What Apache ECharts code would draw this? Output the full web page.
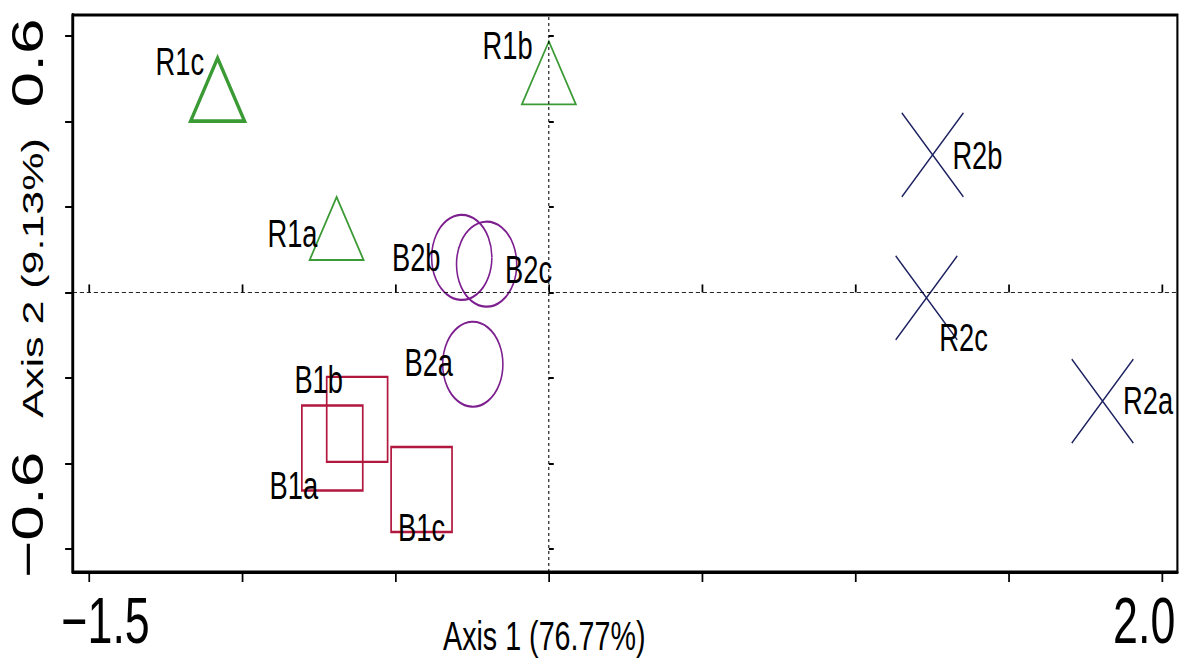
<!DOCTYPE html>
<html>
<head>
<meta charset="utf-8">
<script src="https://cdn.jsdelivr.net/npm/echarts@6/dist/echarts.min.js"></script>
<style>
  html, body { margin: 0; padding: 0; overflow: hidden; background: #fff; }
  #chart { height: 660px; transform-origin: 0 0; }
</style>
</head>
<body>
<div id="chart"></div>
<script>
// the original figure is squeezed horizontally, so the chart is drawn wider and scaled back
var SQUEEZE = 0.7;

var names = ['R1a', 'R1b', 'R1c', 'R2a', 'R2b', 'R2c', 'B1a', 'B1b', 'B1c', 'B2a', 'B2b', 'B2c'];
var axis1 = [-0.692, 0.000, -1.080, 1.805, 1.251, 1.231, -0.706, -0.625, -0.415, -0.248, -0.284, -0.203];
var axis2 = [0.125, 0.489, 0.450, -0.254, 0.322, -0.013, -0.364, -0.297, -0.461, -0.168, 0.082, 0.066];

var groups = ['R1', 'R2', 'B1', 'B2'];

var xTicks = [-1.5, -1.0, -0.5, 0, 0.5, 1.0, 1.5, 2.0];
var xLabels = [-1.5, 2.0];
var yTicks = [-0.6, -0.4, -0.2, 0, 0.2, 0.4, 0.6];
var yLabels = [-0.6, 0.6];

var FONT = '"Liberation Sans", Arial, sans-serif';
var MINUS = '\u2212';

var groupStyle = {
	R1: { symbol: 'triangle', size: [77, 63], offset: [0, '-16.7%'], color: '#3a9a34', width: 2.2 },
	R2: { symbol: 'path://M0,0L10,10M10,0L0,10', size: [88, 84], offset: [0, 0], color: '#1c2160', width: 1.8 },
	B1: { symbol: 'rect', size: [87, 85], offset: [0, 0], color: '#b2173e', width: 2.4 },
	B2: { symbol: 'circle', size: [86, 85], offset: [0, 0], color: '#7d1f8f', width: 2.2 }
};

// label offsets from the symbol centre, in unscaled px
var labelOffset = {
	R1a: [-63, 5], R1b: [-59, -27], R1c: [-54, -28],
	R2a: [65, 0], R2b: [64, 1], R2c: [53, 40],
	B1a: [-55, 38], B1b: [-55, -40], B1c: [0, 38],
	B2a: [-63, -2], B2b: [-65, 0], B2c: [60, 5]
};

var xMin = -1.552, xMax = 2.049;
var yMin = -0.654, yMax = 0.649;

var dom = document.getElementById('chart');
dom.style.width = Math.round(1184 / SQUEEZE) + 'px';
dom.style.transform = 'scaleX(' + SQUEEZE + ')';

var chart = echarts.init(dom, null, { renderer: 'svg' });

var series = groups.map(function(g, gi) {
	var st = groupStyle[g];
	var data = [];
	for (var i = 0; i < names.length; i++) {
		if (names[i].slice(0, 2) !== g) continue;
		var item = {
			name: names[i],
			value: [axis1[i], axis2[i]],
			label: { offset: labelOffset[names[i]] }
		};
		if (names[i] === 'R1c') item.itemStyle = { borderWidth: 4.2 };
		data.push(item);
	}
	var s = {
		type: 'scatter',
		name: g,
		symbol: st.symbol,
		symbolSize: st.size,
		symbolOffset: st.offset,
		itemStyle: { color: 'rgba(0,0,0,0)', borderColor: st.color, borderWidth: st.width, opacity: 1 },
		label: {
			show: true,
			position: 'inside',
			formatter: '{b}',
			color: '#000',
			fontFamily: FONT,
			fontSize: 39
		},
		emphasis: { disabled: true },
		silent: true,
		data: data
	};
	if (gi === 0) {
		s.markLine = {
			silent: true,
			symbol: ['none', 'none'],
			label: { show: false },
			emphasis: { disabled: true },
			data: [
				{ xAxis: 0, lineStyle: { type: [3, 3], width: 1.5, color: '#000' } },
				{ yAxis: 0, lineStyle: { type: [6, 4], width: 1, color: '#000' } }
			]
		};
	}
	return s;
});

chart.setOption({
	animation: false,
	backgroundColor: '#fff',
	grid: {
		left: 104, right: 9, top: 15, bottom: 88,
		containLabel: false,
		outerBoundsMode: 'none',
		show: true, borderColor: '#000', borderWidth: 3, backgroundColor: 'transparent'
	},
	xAxis: [{
		type: 'value',
		min: xMin, max: xMax,
		position: 'bottom',
		name: 'Axis 1 (76.77%)',
		nameLocation: 'middle',
		nameGap: 45,
		nameMoveOverlap: false,
		nameTextStyle: { fontFamily: FONT, fontSize: 41, lineHeight: 37, color: '#000', padding: [0, 231, 0, 0] },
		axisLine: { show: true, onZero: false, lineStyle: { color: '#000', width: 3 } },
		axisTick: { show: true, length: 10, customValues: xTicks, lineStyle: { color: '#000', width: 2.5 } },
		axisLabel: {
			show: true,
			margin: 19,
			customValues: xLabels,
			formatter: function(v) {
				return v < 0 ? '{lo|' + MINUS + Math.abs(v).toFixed(1) + '}' : '{hi|' + v.toFixed(1) + '}';
			},
			rich: {
				lo: { fontFamily: FONT, fontSize: 64, lineHeight: 60, color: '#000', padding: [0, 0, 0, 48] },
				hi: { fontFamily: FONT, fontSize: 64, lineHeight: 60, color: '#000', padding: [0, 52, 0, 0] }
			}
		},
		splitLine: { show: false }
	}, {
		type: 'value',
		min: xMin, max: xMax,
		position: 'bottom',
		axisLine: { show: false },
		axisTick: { show: true, inside: true, length: 8, customValues: xTicks, lineStyle: { color: '#000', width: 2.5 } },
		axisLabel: { show: false },
		splitLine: { show: false }
	}],
	yAxis: [{
		type: 'value',
		min: yMin, max: yMax,
		position: 'left',
		name: 'Axis 2 (9.13%)',
		nameLocation: 'middle',
		nameGap: 36,
		nameMoveOverlap: false,
		nameTextStyle: { fontFamily: FONT, fontSize: 43, color: '#000', padding: [0, 0, 0, 31] },
		axisLine: { show: true, onZero: false, lineStyle: { color: '#000', width: 4 } },
		axisTick: { show: true, length: 11, customValues: yTicks, lineStyle: { color: '#000', width: 2 } },
		axisLabel: {
			show: true,
			rotate: 90,
			margin: 33,
			customValues: yLabels,
			formatter: function(v) {
				return v > 0 ? '{hi|' + v.toFixed(1) + '}' : '{lo|' + MINUS + Math.abs(v).toFixed(1) + '}';
			},
			rich: {
				hi: { fontFamily: FONT, fontSize: 64, color: '#000', padding: [0, 54, 0, 0] },
				lo: { fontFamily: FONT, fontSize: 64, color: '#000', padding: [0, 0, 0, 68] }
			}
		},
		splitLine: { show: false }
	}, {
		type: 'value',
		min: yMin, max: yMax,
		position: 'left',
		axisLine: { show: false },
		axisTick: { show: true, inside: true, length: 7, customValues: yTicks, lineStyle: { color: '#000', width: 2 } },
		axisLabel: { show: false },
		splitLine: { show: false }
	}],
	series: series
});
</script>
</body>
</html>
